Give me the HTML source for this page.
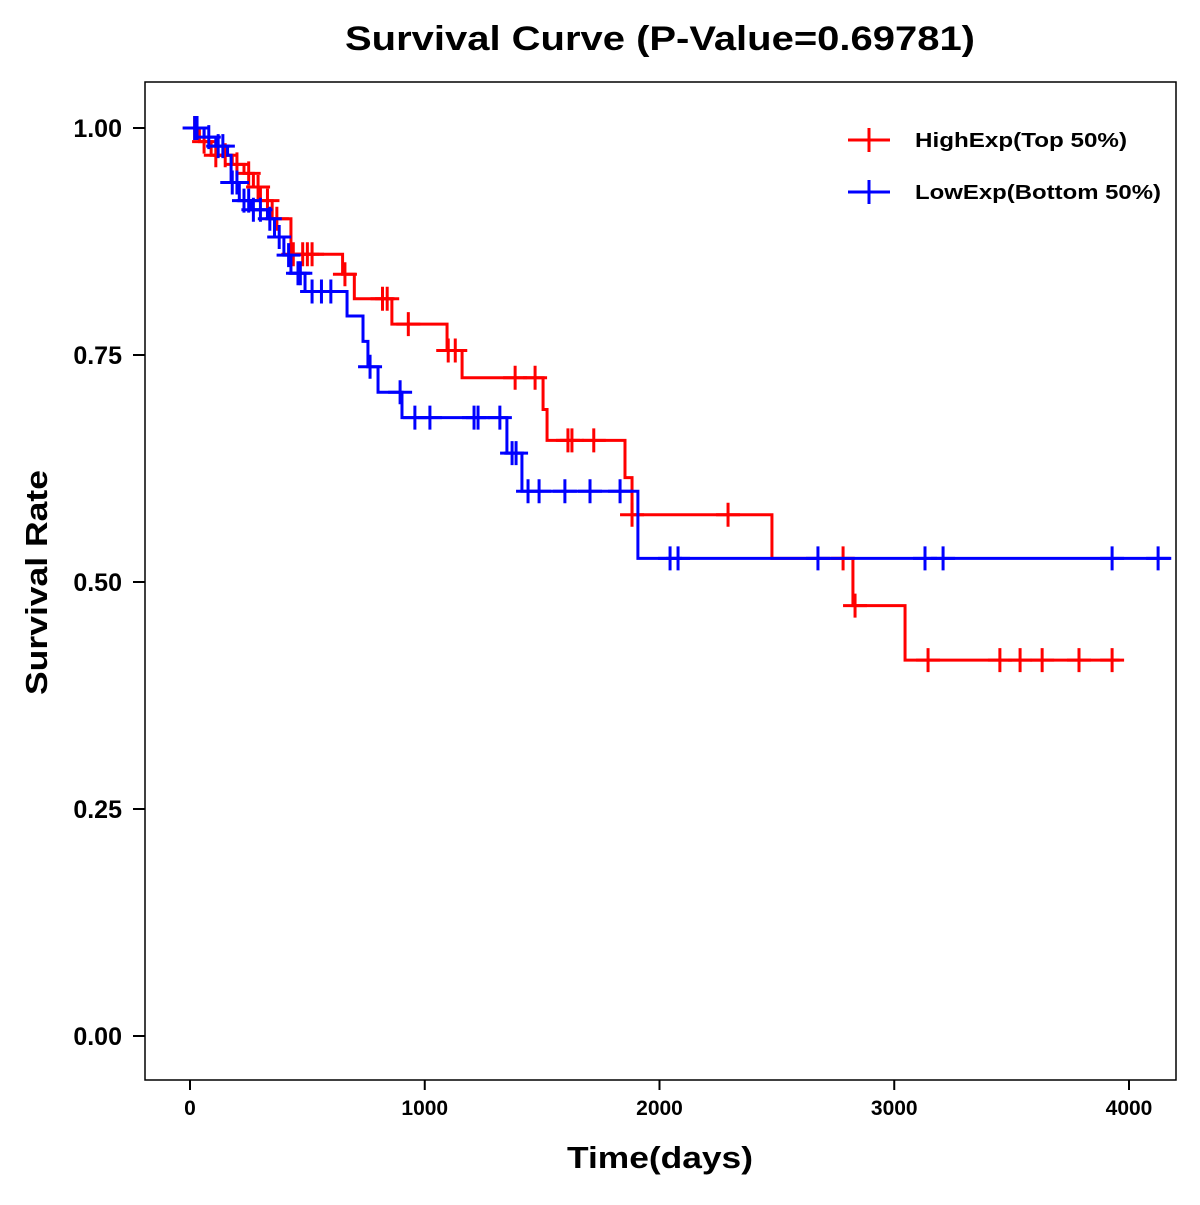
<!DOCTYPE html>
<html><head><meta charset="utf-8"><style>
body{margin:0;background:#fff;}
svg text{font-family:"Liberation Sans",Arial,sans-serif;font-weight:bold;}
</style></head><body>
<svg width="1200" height="1200" viewBox="0 0 1200 1200" xmlns="http://www.w3.org/2000/svg">
<rect x="0" y="0" width="1200" height="1200" fill="#fff"/>
<text x="345" y="50" font-size="34" textLength="630" lengthAdjust="spacingAndGlyphs">Survival Curve (P-Value=0.69781)</text>
<rect x="145" y="82" width="1031" height="998" fill="none" stroke="#000" stroke-width="1.5"/>
<g id="axes"></g>
<g id="series"></g>
<text x="567" y="1168" font-size="31" textLength="186" lengthAdjust="spacingAndGlyphs">Time(days)</text>
<text transform="translate(47,695) rotate(-90)" font-size="31" textLength="225" lengthAdjust="spacingAndGlyphs">Survival Rate</text>
<g>
<g>
<line x1="848" y1="140" x2="890" y2="140" stroke="#f00" stroke-width="3"/><line x1="869" y1="128" x2="869" y2="152" stroke="#f00" stroke-width="3"/>
<text x="915" y="147" font-size="20" textLength="212" lengthAdjust="spacingAndGlyphs">HighExp(Top 50%)</text></g>
<g>
<line x1="848" y1="192" x2="890" y2="192" stroke="#00f" stroke-width="3"/><line x1="869" y1="180" x2="869" y2="204" stroke="#00f" stroke-width="3"/>
<text x="915" y="199" font-size="20" textLength="246" lengthAdjust="spacingAndGlyphs">LowExp(Bottom 50%)</text></g>
</g>
</svg>
<script>
const xTicks=[0,1000,2000,3000,4000];
const yTicks=[0,0.25,0.5,0.75,1.0];
const yTickLabels=["0.00","0.25","0.50","0.75","1.00"];
const highTimes=[0,40,90,180,230,270,300,350,430,650,700,860,1095,1159,1504,1521,1853,1883,2479,2824,3046];
const highSurv=[1.0,0.985,0.97,0.96,0.95,0.935,0.92,0.90,0.861,0.839,0.812,0.784,0.755,0.725,0.69,0.656,0.615,0.574,0.526,0.474,0.414];
const highEnd=3960;
const highCensor=[20,60,110,150,200,250,290,330,370,440,480,500,520,660,820,840,930,1100,1130,1385,1470,1610,1627,1720,1883,2292,2782,2833,3144,3450,3536,3630,3787,3928];
const lowTimes=[0,60,110,160,175,210,260,330,360,400,430,490,669,737,758,801,903,1350,1414,1908];
const lowSurv=[1.0,0.99,0.98,0.97,0.94,0.92,0.91,0.90,0.88,0.86,0.84,0.82,0.793,0.765,0.737,0.709,0.681,0.642,0.60,0.526];
const lowEnd=4180;
const lowCensor=[20,30,80,120,140,180,200,230,250,270,300,340,380,420,460,470,520,560,600,767,895,958,1022,1210,1227,1320,1372,1389,1440,1487,1597,1704,1832,2045,2079,2675,3131,3208,3928,4124];
const X=t=>190+t*939/4000, Y=s=>1036-s*908;
const NS="http://www.w3.org/2000/svg";
function mk(tag,attrs,parent){const e=document.createElementNS(NS,tag);for(const k in attrs)e.setAttribute(k,attrs[k]);parent.appendChild(e);return e;}
const ax=document.getElementById('axes');
xTicks.forEach(t=>{
 const l=mk('line',{x1:X(t),x2:X(t),y1:1080,y2:1090,stroke:'#000','stroke-width':2},ax);
 
 
 const tx=mk('text',{x:X(t),y:1115,'font-size':21,'text-anchor':'middle'},ax);tx.textContent=t;
 
 
});
yTicks.forEach((v,i)=>{
 const l=mk('line',{x1:133,x2:145,y1:Y(v),y2:Y(v),stroke:'#000','stroke-width':2},ax);
 
 
 const tx=mk('text',{x:122,y:Y(v)+9,'font-size':25,'text-anchor':'end'},ax);tx.textContent=yTickLabels[i];
 
 
});
function survAt(times,surv,t){let s=surv[0];for(let i=0;i<times.length;i++){if(times[i]<=t)s=surv[i];}return s;}
function draw(times,surv,end,cens,color,name){
 const g=mk('g',{},document.getElementById('series'));
 
 
 let d='M'+X(times[0])+','+Y(surv[0]);
 for(let i=1;i<times.length;i++){d+=' H'+X(times[i])+' V'+Y(surv[i]);}
 d+=' H'+X(end);
 const p=mk('path',{d:d,fill:'none',stroke:color,'stroke-width':3},g);
 
 
 cens.forEach(t=>{
  const s=survAt(times,surv,t);
  const c=mk('path',{d:'M'+(X(t)-12)+','+Y(s)+' h24 M'+X(t)+','+(Y(s)-12)+' v24',stroke:color,'stroke-width':3,fill:'none'},g);
  
  
 });
}
draw(highTimes,highSurv,highEnd,highCensor,'#f00','high-exp');
draw(lowTimes,lowSurv,lowEnd,lowCensor,'#00f','low-exp');
</script>
</body></html>
